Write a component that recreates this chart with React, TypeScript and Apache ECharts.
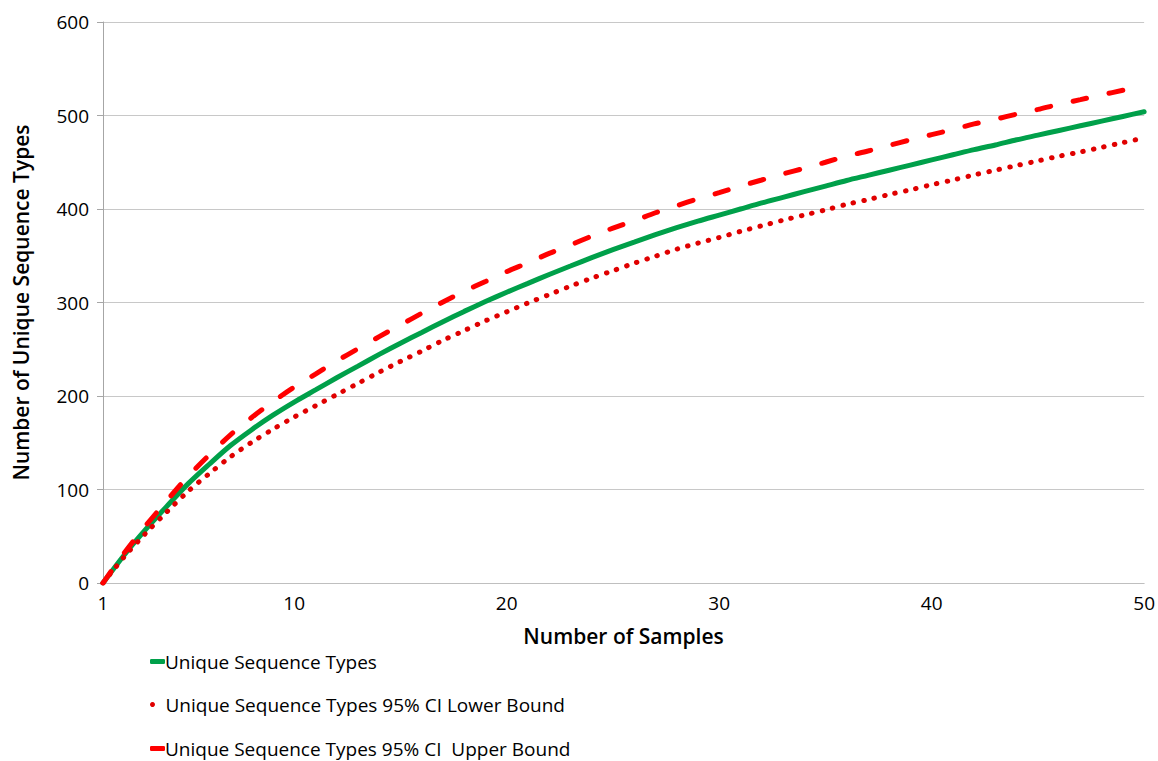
import React, { useEffect, useRef } from "react";
import * as echarts from "echarts";

const samples = [
  1, 2, 3, 4, 5, 6, 7, 8, 9, 10, 11, 12, 13, 14, 15, 16, 17, 18, 19, 20, 21, 22, 23, 24, 25,
  26, 27, 28, 29, 30, 31, 32, 33, 34, 35, 36, 37, 38, 39, 40, 41, 42, 43, 44, 45, 46, 47, 48, 49, 50,
];

const uniqueTypes = [
  0, 30, 57, 82, 106, 127, 147, 164, 179.5, 193.5, 206.5, 219.5, 232, 244.5, 256.5, 268, 279.5,
  290.5, 301, 311, 320.5, 330, 339, 348, 356.5, 364.5, 372.5, 380, 387, 393.5, 400, 406.5, 412.5,
  418.5, 424.5, 430.5, 436, 441.5, 447, 452.5, 458, 463.5, 468.5, 474, 479, 484, 489, 494, 499, 504,
];

const lowerBound = [
  0, 28, 53, 76, 98, 117, 135, 150.5, 164.5, 177.5, 189.5, 201.5, 213.5, 225.5, 237, 248, 259.5,
  270, 280.5, 290, 299.5, 308.5, 317.5, 326, 334, 342, 349.5, 357, 363.5, 369.5, 376, 382, 388,
  393.5, 399, 405, 410, 415.5, 420.5, 426, 431, 436.5, 441.5, 446.5, 451.5, 456.5, 461, 466, 471, 476,
];

const upperBound = [
  0, 32, 61, 88, 114, 137, 158.5, 177, 194, 209.5, 223.5, 237.5, 250.5, 263.5, 276, 288.5, 300.5, 312,
  322.5, 333, 342.5, 352.5, 361.5, 371, 379.5, 387.5, 396, 403.5, 411, 417.5, 424.5, 431, 437.5,
  443.5, 450, 456.5, 462, 468, 474, 479.5, 485, 491, 496, 501.5, 506.5, 512, 517, 522, 527, 532,
];

const xTickLabels = [1, 10, 20, 30, 40, 50];

const seriesNames = [
  "Unique Sequence Types",
  "Unique Sequence Types 95% CI Lower Bound",
  "Unique Sequence Types 95% CI  Upper Bound",
];

const FONT = "'Open Sans', 'Noto Sans', sans-serif";

export default function App() {
  const ref = useRef<HTMLDivElement>(null);

  useEffect(() => {
    if (!ref.current) return;
    const chart = echarts.init(ref.current, undefined, { renderer: "svg" });
    const pair = (ys: number[]) => samples.map((x, i) => [x, ys[i]]);
    const legendBase = {
      orient: "vertical",
      left: 145,
      itemWidth: 15,
      itemHeight: 5,
      selectedMode: false,
      textStyle: { fontSize: 19, color: "#000", fontFamily: FONT, padding: [0, 0, 0, -5] },
    };
    chart.setOption({
      animation: false,
      backgroundColor: "#fff",
      textStyle: { fontFamily: FONT },
      grid: { left: 103, right: 6, top: 22, bottom: 178, containLabel: false },
      xAxis: {
        type: "value",
        min: 1,
        max: 50,
        name: "Number of Samples",
        nameLocation: "middle",
        nameGap: 42,
        nameTextStyle: { fontSize: 21, fontWeight: 600, color: "#000", fontFamily: FONT },
        axisLine: { show: true, lineStyle: { color: "#BFBFBF", width: 1 } },
        axisTick: { show: false },
        splitLine: { show: false },
        axisLabel: {
          customValues: xTickLabels,
          fontSize: 19,
          color: "#000",
          margin: 10,
          fontFamily: FONT,
        },
      },
      yAxis: {
        type: "value",
        min: 0,
        max: 600,
        interval: 100,
        name: "Number of Unique Sequence Types",
        nameLocation: "middle",
        nameGap: 72,
        nameTextStyle: { fontSize: 21, fontWeight: 600, color: "#000", fontFamily: FONT },
        axisLine: { show: true, lineStyle: { color: "#A6A6A6", width: 1 } },
        axisTick: { show: true, length: 6, lineStyle: { color: "#A6A6A6" } },
        splitLine: { show: true, lineStyle: { color: "#C8C8C8", width: 1 } },
        axisLabel: { fontSize: 19, color: "#000", margin: 14, fontFamily: FONT },
      },
      legend: [
        { ...legendBase, top: 647, data: [{ name: seriesNames[0], icon: "roundRect" }] },
        {
          ...legendBase,
          top: 690,
          itemWidth: 6,
          textStyle: { ...legendBase.textStyle, padding: [0, 0, 0, 5] },
          data: [{ name: seriesNames[1], icon: "circle" }],
        },
        { ...legendBase, top: 734, data: [{ name: seriesNames[2], icon: "roundRect" }] },
      ],
      series: [
        {
          name: seriesNames[0],
          type: "line",
          data: pair(uniqueTypes),
          showSymbol: false,
          symbol: "none",
          smooth: 0.3,
          color: "#00A04A",
          lineStyle: { color: "#00A04A", width: 5, cap: "round" },
        },
        {
          name: seriesNames[1],
          type: "line",
          data: pair(lowerBound),
          showSymbol: false,
          symbol: "none",
          smooth: 0.3,
          color: "#E00000",
          lineStyle: { color: "#E00000", width: 5, type: [0.5, 10.2], cap: "round" },
        },
        {
          name: seriesNames[2],
          type: "line",
          data: pair(upperBound),
          showSymbol: false,
          symbol: "none",
          smooth: 0.3,
          color: "#FF0000",
          lineStyle: { color: "#FF0000", width: 5, type: [14, 23], cap: "round" },
        },
      ],
    });
    return () => chart.dispose();
  }, []);

  return (
    <div
      ref={ref}
      style={{ position: "fixed", left: 0, top: 0, width: 1158, height: 761, background: "#fff" }}
    />
  );
}
